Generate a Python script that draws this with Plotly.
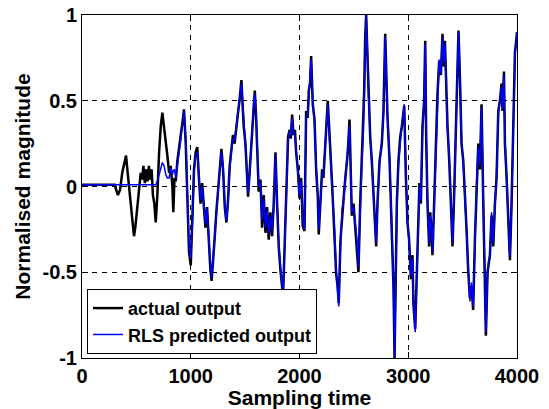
import plotly.graph_objects as go

# sampling instants
sample_t = [
    0, 300, 330, 350, 370, 390, 405, 420, 440, 460,
    478, 490, 505, 524, 540, 552, 565, 578, 590, 603,
    615, 628, 640, 652, 665, 678, 693, 709, 724, 739,
    755, 770, 785, 801, 816, 831, 840, 850, 862, 877,
    892, 908, 923, 938, 954, 969, 984, 1000, 1015, 1030,
    1045, 1060, 1075, 1090, 1105, 1120, 1135, 1150, 1165, 1180,
    1192, 1205, 1220, 1235, 1250, 1267, 1282, 1297, 1313, 1328,
    1343, 1358, 1373, 1388, 1403, 1418, 1433, 1448, 1466, 1475,
    1487, 1503, 1518, 1527, 1538, 1549, 1565, 1580, 1589, 1600,
    1610, 1625, 1641, 1656, 1671, 1687, 1702, 1717, 1732, 1748,
    1763, 1779, 1794, 1809, 1825, 1837, 1849, 1865, 1880, 1895,
    1910, 1920, 1932, 1945, 1958, 1969, 1985, 2000, 2015, 2030,
    2046, 2061, 2075, 2086, 2097, 2107, 2122, 2138, 2153, 2168,
    2177, 2192, 2208, 2220, 2230, 2245, 2260, 2276, 2291, 2306,
    2322, 2337, 2350, 2361, 2377, 2392, 2408, 2423, 2444, 2460,
    2470, 2481, 2497, 2512, 2527, 2542, 2558, 2573, 2588, 2594,
    2604, 2613, 2625, 2634, 2650, 2665, 2680, 2696, 2705, 2717,
    2736, 2757, 2772, 2788, 2797, 2809, 2828, 2840, 2852, 2865,
    2874, 2886, 2895, 2910, 2926, 2941, 2956, 2963, 2978, 2993,
    3008, 3024, 3039, 3048, 3064, 3079, 3091, 3103, 3116, 3131,
    3146, 3156, 3165, 3177, 3192, 3202, 3214, 3223, 3238, 3254,
    3269, 3284, 3300, 3315, 3324, 3337, 3349, 3361, 3377, 3392,
    3407, 3422, 3438, 3453, 3462, 3475, 3490, 3506, 3521, 3536,
    3552, 3567, 3582, 3597, 3613, 3628, 3644, 3659, 3674, 3690,
    3705, 3714, 3729, 3740, 3751, 3766, 3782, 3797, 3812, 3828,
    3843, 3858, 3867, 3880, 3889, 3904, 3920, 3935, 3950, 3966,
    3981, 3996, 4000,
]

actual_output = [
    0.01, 0.01, -0.05, -0.02, 0.08, 0.14, 0.18, 0.08, -0.05, -0.18,
    -0.29, -0.24, -0.15, 0.0, 0.08, 0.04, 0.12, 0.02, 0.10, 0.03,
    0.12, 0.04, 0.10, -0.05, -0.10, -0.21, -0.05, 0.20, 0.35, 0.43,
    0.35, 0.27, 0.18, 0.08, 0.12, 0.0, -0.15, 0.05, 0.03, 0.15,
    0.24, 0.30, 0.37, 0.45, 0.25, -0.10, -0.38, -0.46, -0.20, 0.10,
    0.20, 0.23, 0.05, -0.10, 0.02, -0.14, -0.24, -0.12, -0.35, -0.48,
    -0.55, -0.40, -0.30, -0.15, -0.02, 0.12, 0.22, 0.10, -0.12, -0.21,
    -0.08, 0.12, 0.20, 0.30, 0.25, 0.36, 0.42, 0.50, 0.62, 0.50,
    0.35, 0.25, 0.06, -0.06, 0.05, 0.17, 0.35, 0.52, 0.56, 0.42,
    0.25, -0.03, 0.04, -0.24, -0.05, -0.27, -0.12, -0.31, -0.15, -0.29,
    -0.10, 0.20, -0.10, -0.35, -0.49, -0.56, -0.64, -0.31, 0.06, 0.29,
    0.33, 0.28, 0.42, 0.30, 0.33, 0.20, 0.10, -0.07, 0.05, -0.23,
    -0.26, 0.44, 0.40, 0.56, 0.60, 0.76, 0.48, 0.39, 0.10, -0.06,
    -0.28, -0.05, 0.10, 0.05, 0.19, 0.33, 0.50, 0.25, 0.12, -0.07,
    -0.27, -0.51, -0.58, -0.68, -0.31, -0.15, -0.05, 0.06, 0.20, 0.39,
    0.10, -0.17, -0.10, -0.23, -0.32, -0.50, -0.10, 0.15, 0.35, 0.54,
    0.87, 1.00, 0.76, 0.55, 0.29, 0.15, -0.06, -0.31, -0.35, -0.10,
    0.15, 0.25, 0.44, 0.89, 0.64, 0.41, 0.15, -0.06, -0.31, -0.60,
    -1.00, -0.50, -0.10, 0.15, 0.29, 0.35, 0.45, 0.47, 0.06, -0.21,
    -0.31, -0.54, -0.40, -0.69, -0.83, -0.50, -0.31, 0.02, -0.10, 0.35,
    0.50, 0.85, 0.29, -0.10, -0.35, -0.15, -0.27, -0.40, -0.10, 0.25,
    0.54, 0.73, 0.65, 0.89, 0.70, 0.85, 0.54, 0.35, 0.15, -0.10,
    -0.35, -0.05, 0.29, 0.64, 0.91, 0.64, 0.25, 0.15, -0.10, -0.25,
    -0.50, -0.65, -0.58, -0.72, -0.31, 0.0, 0.25, 0.10, 0.48, -0.10,
    -0.60, -0.87, -0.50, -0.45, -0.40, -0.17, -0.35, -0.10, 0.05, 0.44,
    0.50, 0.60, 0.44, 0.67, 0.25, 0.06, -0.17, -0.43, -0.10, 0.44,
    0.78, 0.87, 0.90,
]

rls_predicted = [
    0.01, 0.01, 0.01, 0.01, 0.01, 0.01, 0.01, 0.01, 0.01, 0.01,
    0.01, 0.01, 0.01, 0.01, 0.01, 0.01, 0.01, 0.01, 0.01, 0.01,
    0.01, 0.01, 0.01, 0.01, 0.01, 0.01, 0.03, 0.07, 0.10, 0.14,
    0.12, 0.07, 0.05, 0.05, 0.11, 0.07, 0.09, 0.10, 0.05, 0.12,
    0.20, 0.27, 0.37, 0.44, 0.28, -0.05, -0.35, -0.42, -0.22, 0.08,
    0.18, 0.20, 0.06, -0.08, 0.0, -0.12, -0.22, -0.13, -0.33, -0.45,
    -0.53, -0.42, -0.28, -0.14, 0.0, 0.10, 0.20, 0.12, -0.10, -0.20,
    -0.10, 0.10, 0.20, 0.28, 0.27, 0.35, 0.40, 0.50, 0.60, 0.52,
    0.37, 0.24, 0.08, -0.04, 0.04, 0.18, 0.33, 0.50, 0.54, 0.44,
    0.27, 0.0, 0.02, -0.20, -0.07, -0.24, -0.14, -0.28, -0.17, -0.26,
    -0.12, 0.18, -0.08, -0.33, -0.47, -0.55, -0.62, -0.33, 0.04, 0.27,
    0.32, 0.30, 0.40, 0.31, 0.30, 0.22, 0.10, -0.05, 0.03, -0.20,
    -0.25, 0.40, 0.42, 0.54, 0.62, 0.74, 0.50, 0.37, 0.12, -0.04,
    -0.25, -0.07, 0.08, 0.07, 0.17, 0.31, 0.48, 0.27, 0.10, -0.05,
    -0.25, -0.48, -0.60, -0.70, -0.35, -0.13, -0.07, 0.04, 0.20, 0.36,
    0.12, -0.15, -0.12, -0.20, -0.30, -0.47, -0.13, 0.13, 0.33, 0.52,
    0.85, 1.00, 0.78, 0.53, 0.30, 0.13, -0.04, -0.28, -0.33, -0.12,
    0.13, 0.27, 0.42, 0.87, 0.66, 0.40, 0.17, -0.04, -0.30, -0.62,
    -1.00, -0.55, -0.12, 0.13, 0.27, 0.36, 0.43, 0.48, 0.08, -0.20,
    -0.33, -0.52, -0.42, -0.66, -0.85, -0.52, -0.30, 0.0, -0.08, 0.33,
    0.52, 0.83, 0.30, -0.08, -0.33, -0.17, -0.25, -0.38, -0.12, 0.23,
    0.52, 0.74, 0.66, 0.87, 0.72, 0.83, 0.56, 0.33, 0.17, -0.08,
    -0.33, -0.07, 0.27, 0.62, 0.90, 0.66, 0.27, 0.13, -0.08, -0.27,
    -0.48, -0.67, -0.56, -0.70, -0.33, 0.02, 0.23, 0.12, 0.46, -0.08,
    -0.58, -0.85, -0.52, -0.43, -0.42, -0.15, -0.33, -0.12, 0.07, 0.42,
    0.52, 0.58, 0.46, 0.65, 0.27, 0.04, -0.15, -0.41, -0.12, 0.42,
    0.76, 0.88, 0.90,
]

x_ticks = [0, 1000, 2000, 3000, 4000]
x_tick_labels = ["0", "1000", "2000", "3000", "4000"]
y_ticks = [-1, -0.5, 0, 0.5, 1]
y_tick_labels = ["-1", "-0.5", "0", "0.5", "1"]

FONT = "Liberation Sans, Arial, Helvetica, sans-serif"

fig = go.Figure()
fig.add_trace(go.Scatter(x=sample_t, y=actual_output, mode="lines",
                         name="actual output",
                         line=dict(color="black", width=2.5)))
fig.add_trace(go.Scatter(x=sample_t, y=rls_predicted, mode="lines",
                         name="RLS predicted output",
                         line=dict(color="#0000ff", width=1.5)))

axis_common = dict(
    showline=True, linecolor="black", linewidth=1, mirror="ticks",
    ticks="inside", ticklen=6, tickcolor="black",
    showgrid=True, gridcolor="black", gridwidth=1, griddash="5px,5px",
    zeroline=False, automargin=False, ticklabeloverflow="allow",
    tickfont=dict(family=FONT, size=20, color="black", weight="bold"),
)

fig.update_xaxes(range=[0, 4000], tickvals=x_ticks, ticktext=x_tick_labels,
                 title=dict(text="Sampling time", standoff=0,
                            font=dict(family=FONT, size=21, color="black", weight="bold")),
                 **axis_common)
fig.update_yaxes(range=[-1, 1], tickvals=y_ticks, ticktext=y_tick_labels,
                 title=dict(text="Normalised magnitude", standoff=6,
                            font=dict(family=FONT, size=21, color="black", weight="bold")),
                 **axis_common)

# the page body adds an 8px offset, so the figure is sized to the remaining window
fig.update_layout(
    width=541, height=401,
    margin=dict(l=74, r=32, t=7, b=51),
    paper_bgcolor="white", plot_bgcolor="white",
    font=dict(family=FONT, color="black"),
    showlegend=True,
    legend=dict(x=0.0115, y=0.012, xanchor="left", yanchor="bottom",
                bordercolor="black", borderwidth=1, bgcolor="white",
                font=dict(family=FONT, size=18, color="black", weight="bold"),
                tracegroupgap=0, itemwidth=30),
)

fig.write_html("out.html")
